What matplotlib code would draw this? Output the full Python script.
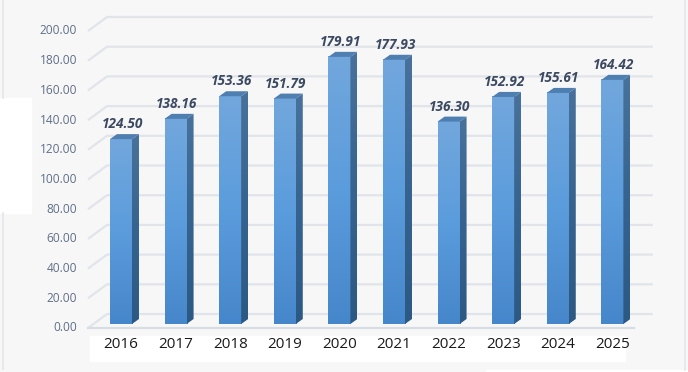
import numpy as np
import matplotlib.pyplot as plt
from matplotlib.patches import Polygon, Rectangle
from matplotlib.colors import LinearSegmentedColormap

# data
years = ['2016', '2017', '2018', '2019', '2020', '2021', '2022', '2023', '2024', '2025']
values = [124.50, 138.16, 153.36, 151.79, 179.91, 177.93, 136.30, 152.92, 155.61, 164.42]
yticks = [0, 20, 40, 60, 80, 100, 120, 140, 160, 180, 200]

# geometry (category units in x, value units in y)
half_w = 0.2015          # half width of bar front face
depth_x, depth_y = 0.128, 3.37   # bar depth offset
front_dx, front_dy = -0.604, -2.69   # front edge of floor / wall
back_dx, back_dy = -0.256, 6.73
back_right = 9.74
front_right = 9.396

fig = plt.figure(figsize=(6.88, 3.72), dpi=100)
fig.patch.set_facecolor('#f7f7f8')
ax = fig.add_axes([0, 0, 1, 1])
ax.set_xlim(-2.216, 10.385)
ax.set_ylim(-32.32, 218.18)
ax.axis('off')

# white patches of the background
ax.add_patch(Rectangle((-2.216, 74.7), 0.567, 77.5, color='white', zorder=0))
ax.add_patch(Rectangle((-0.568, -24.6), 9.8, 16.8, color='white', zorder=0))
ax.add_patch(Rectangle((6.684, -32.32), 3.8, 1.2, color='white', zorder=0))
ax.plot([-2.16, -2.16], [152.2, 218.18], color='#e3e5ea', lw=1.2, zorder=0)
ax.plot([-2.16, -2.16], [-30, 74.7], color='#e3e5ea', lw=1.2, zorder=0)
ax.plot([10.33, 10.33], [-31, 218.18], color='#e3e5ea', lw=1.2, zorder=0)

# grid lines on side and back wall
for t in yticks:
    ax.plot([front_dx, back_dx, back_right], [t + front_dy, t + back_dy, t + back_dy],
            color='#e1e4e9', lw=1.6, zorder=1, solid_capstyle='butt')
    ax.text(front_dx - 0.2, t + front_dy, f'{t:.2f}', ha='right', va='center',
            fontsize=8.6, color='#5f6f86', family='Open Sans')
ax.plot([front_dx, front_right], [front_dy, front_dy], color='#d8dce3', lw=1.6, zorder=1)

# bars
cmap = LinearSegmentedColormap.from_list('face', ['#4686ca', '#5b9cdd', '#72a7dc'])
side_cmap = LinearSegmentedColormap.from_list('side', ['#2c5884', '#36638f', '#48729c'])
grad = np.linspace(0, 1, 256).reshape(-1, 1)
for i, v in enumerate(values):
    x0, x1 = i - half_w, i + half_w
    ax.imshow(grad, extent=[x0, x1, 0, v], origin='lower', cmap=cmap,
              aspect='auto', zorder=3)
    side = Polygon([(x1, 0), (x1 + depth_x, depth_y), (x1 + depth_x, v + depth_y), (x1, v)],
                   closed=True, facecolor='none', edgecolor='none', zorder=3)
    ax.add_patch(side)
    im = ax.imshow(grad, extent=[x1, x1 + depth_x, 0, v + depth_y], origin='lower',
                   cmap=side_cmap, aspect='auto', zorder=3)
    im.set_clip_path(side)
    ax.add_patch(Polygon([(x0, v), (x1, v), (x1 + depth_x, v + depth_y), (x0 + depth_x, v + depth_y)],
                         closed=True, facecolor='#4f7eb0', edgecolor='none', zorder=4))
    ax.text(i + 0.02, v + depth_y + 2.0, f'{v:.2f}', ha='center', va='bottom',
            fontsize=9.8, fontweight='bold', fontstyle='italic', color='#3c4a61',
            family='Open Sans', zorder=5)
    ax.text(i, -14.1, years[i], ha='center', va='center', fontsize=11,
            color='#1a1a1a', family='Open Sans', zorder=5)

fig.savefig('out.png', dpi=100, facecolor=fig.get_facecolor())
